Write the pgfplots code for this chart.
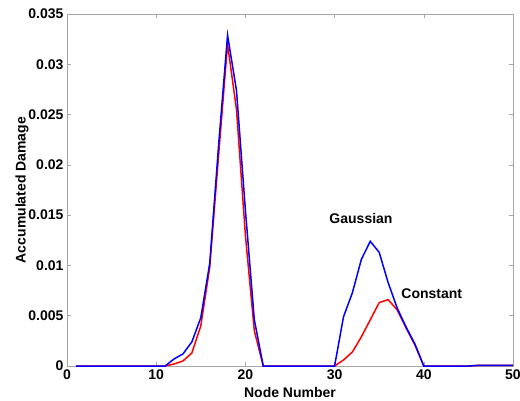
\documentclass[border=0pt]{standalone}
\usepackage{fontspec}
\setmainfont{Liberation Sans}
\usepackage{pgfplots}
\pgfplotsset{compat=1.18}
\begin{document}
\begin{tikzpicture}[x=1pt,y=1pt]
\useasboundingbox (-67,-34) rectangle (453,366);
\begin{axis}[
  at={(0,0)}, anchor=south west,
  scale only axis, width=446pt, height=352pt,
  xmin=0, xmax=50, ymin=0, ymax=0.035,
  xtick={0,10,20,30,40,50},
  ytick={0,0.005,0.01,0.015,0.02,0.025,0.03,0.035},
  scaled y ticks=false,
  yticklabel style={/pgf/number format/fixed,/pgf/number format/precision=3},
  /pgf/number format/assume math mode=true,
  tick label style={font=\fontsize{14}{16}\selectfont\bfseries, black},
  label style={font=\fontsize{14}{16}\selectfont\bfseries, black},
  xlabel={Node Number}, ylabel={Accumulated Damage},
  xlabel style={at={(axis description cs:0.5,0)}, anchor=center, yshift=-26pt},
  ylabel style={at={(axis description cs:0,0.5)}, anchor=center, yshift=45pt},
  axis line style={gray!70, line width=0.6pt},
  tick style={gray!70, line width=0.5pt},
  major tick length=4pt,
  tick align=inside,
  xtick pos=both, ytick pos=both,
  clip=false,
]
\addplot[red, line width=1.5pt] coordinates {
(1,0)(2,0)(3,0)(4,0)(5,0)(6,0)(7,0)(8,0)(9,0)(10,0)(11,0)
(12,0.0002)(13,0.0005)(14,0.0013)(15,0.0040)(16,0.0098)(17,0.0210)(18,0.0320)(19,0.0255)(20,0.0130)(21,0.0035)
(22,0)(23,0)(24,0)(25,0)(26,0)(27,0)(28,0)(29,0)(30,0)
(31,0.0006)(32,0.0014)(33,0.0029)(34,0.0046)(35,0.0063)(36,0.0066)(37,0.0056)(38,0.0038)(39,0.0021)
(40,0)(41,0)(42,0)(43,0)(44,0)(45,0)(46,0.00005)(47,0.00005)(48,0.00005)(49,0.00005)(50,0.00005)
};
\addplot[blue, line width=1.5pt] coordinates {
(1,0)(2,0)(3,0)(4,0)(5,0)(6,0)(7,0)(8,0)(9,0)(10,0)(11,0)
(12,0.0007)(13,0.0012)(14,0.0024)(15,0.0048)(16,0.0102)(17,0.0220)(18,0.0329)(19,0.0274)(20,0.0155)(21,0.0046)
(22,0)(23,0)(24,0)(25,0)(26,0)(27,0)(28,0)(29,0)(30,0)
(31,0.0049)(32,0.0073)(33,0.0106)(34,0.0124)(35,0.0113)(36,0.0083)(37,0.0058)(38,0.0039)(39,0.0022)
(40,0)(41,0)(42,0)(43,0)(44,0)(45,0)(46,0.00006)(47,0.00006)(48,0.00006)(49,0.00006)(50,0.00006)
};
\node[font=\fontsize{14}{16}\selectfont\bfseries] at (axis cs:32.96,0.0147) {Gaussian};
\node[font=\fontsize{14}{16}\selectfont\bfseries] at (axis cs:40.9,0.00716) {Constant};
\end{axis}
\end{tikzpicture}
\end{document}
